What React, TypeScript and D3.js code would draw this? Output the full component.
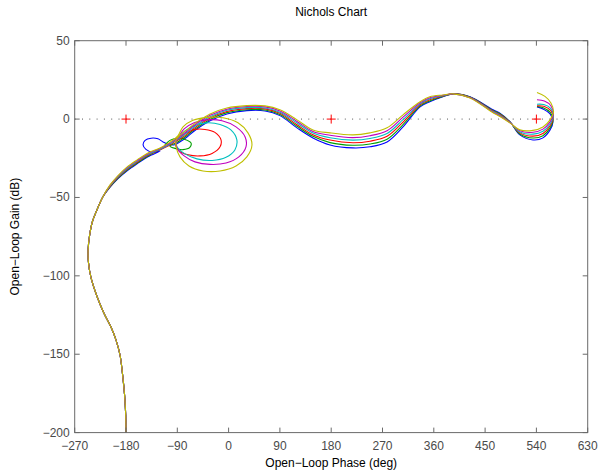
import React from 'react';
import * as d3 from 'd3';

type P = [number, number];

const phaseTicks = [-270, -180, -90, 0, 90, 180, 270, 360, 450, 540, 630];
const gainTicks = [-200, -150, -100, -50, 0, 50];
const criticalPhases = [-180, 180, 540];

const titleText = 'Nichols Chart';
const xLabel = 'Open\u2212Loop Phase (deg)';
const yLabel = 'Open\u2212Loop Gain (dB)';

// shared low-frequency branch (all six responses overlap here)
const lowerBranch: P[] = [
  [-180, -205], [-180.5, -189], [-182.5, -176], [-186, -163], [-190.5, -150.5], [-197.5, -141],
  [-206, -133], [-218.5, -124], [-231, -113], [-241.5, -101], [-246, -91], [-246.5, -83.5],
  [-244, -74.5], [-239, -65.5], [-231, -58], [-220.5, -49.5],
];

const blueTail: P[] = [[-208, -43.5], [-194, -38], [-178, -33], [-160.5, -28.5], [-141.5, -24], [-120, -20.3]];
const blueLoop: P[] = [[-132.5, -21.2], [-145, -19.3], [-150, -16.5], [-146.5, -13.6], [-136, -12.2], [-124, -12.6], [-115, -14.6], [-106, -16.1], [-96, -16.5]];
const blueUpper: P[] = [[-85, -14.5], [-73, -11.4], [-62.5, -8.2], [-32.5, -1.1], [-3, 3.3], [32, 5.4], [64, 5.2], [90, 2.2], [120, -5.6], [148, -12], [178, -16.5], [218, -18.4], [248, -17.7], [278, -14.6], [306, -5], [336, 7.8], [353, 11], [376, 14.2], [394, 16.1], [423.5, 14.2], [464, 5.9], [476, 3.8], [494, -1.8], [511, -10.1], [534, -13.3], [551.5, -12], [564, -6.9], [569, -1.8], [564, 3.3], [551.5, 6.5], [541, 7.8]];

const greenTail: P[] = [[-208, -43.2], [-194, -37.6], [-178, -32.5], [-160.5, -28.0], [-141.5, -23.6], [-124, -20.0], [-115, -18.5]];
const greenLoop: P[] = [[-111.5, -16.5], [-103, -13.6], [-90.5, -12.2], [-76.5, -13], [-66, -15.2], [-68, -18.1], [-80, -19.5], [-94, -18.7], [-103, -17.1], [-92, -15.2]];
const greenUpper: P[] = [[-85, -13.6], [-73, -10.5], [-62.5, -7.3], [-32.5, -0.2], [-3, 4.1], [32, 6.0], [64, 5.8], [90, 2.9], [120, -4.6], [148, -11.0], [178, -15.0], [218, -16.7], [248, -15.9], [278, -12.8], [306, -3.5], [336, 8.4], [353, 11.6], [376, 14.4], [394, 16.1], [423.5, 14.1], [464, 5.5], [476, 3.4], [494, -2.0], [511, -9.5], [534, -12.1], [551.5, -10.6], [564, -5.6], [569.3, -0.5], [564.5, 4.2], [552, 7.3], [541, 8]];

const redTail: P[] = [[-208, -42.9], [-194, -37.2], [-178, -32.0], [-160.5, -27.5], [-141.5, -23.1], [-120.3, -19.6], [-102.8, -16.5], [-89, -13]];
const redLoop: P[] = [[-74.5, -8.8], [-59, -6.6], [-41.5, -6.6], [-24, -8.5], [-13.3, -13.3], [-15, -17.7], [-29, -21.9], [-50, -23.5], [-71, -22.8], [-87, -20.3], [-93, -16.5], [-90.5, -13.9]];
const redUpper: P[] = [[-85, -12.7], [-73, -9.6], [-62.5, -6.4], [-32.5, 0.7], [-3, 4.8], [32, 6.7], [64, 6.5], [90, 3.7], [120, -3.6], [148, -10.0], [178, -13.4], [218, -15.1], [248, -14.1], [278, -11.0], [306, -1.9], [336, 9.1], [353, 12.3], [376, 14.7], [394, 16.1], [423.5, 13.9], [464, 5.1], [476, 2.9], [494, -2.1], [511, -8.8], [534, -10.9], [551.5, -9.2], [564, -4.3], [569.5, 0.8], [565, 5.5], [553, 8.2], [541, 8.5]];

const cyanTail: P[] = [[-208, -42.6], [-194, -36.8], [-178, -31.5], [-160.5, -27.0], [-141.5, -22.6], [-120.3, -19.2], [-102.8, -15.9], [-89, -12]];
const cyanLoop: P[] = [[-76.5, -7.5], [-59, -4], [-38, -2.4], [-15, -3.4], [4, -6.9], [14.5, -13.3], [11, -19.7], [-4.5, -24.4], [-29, -26.4], [-55.5, -25.4], [-76.5, -22.2], [-90.5, -17.7], [-91.5, -13.9]];
const cyanUpper: P[] = [[-85, -11.9], [-73, -8.7], [-62.5, -5.5], [-32.5, 1.5], [-3, 5.6], [32, 7.3], [64, 7.1], [90, 4.4], [120, -2.5], [148, -8.9], [178, -11.9], [218, -13.4], [248, -12.4], [278, -9.2], [306, -0.4], [336, 9.7], [353, 12.9], [376, 14.9], [394, 16.1], [423.5, 13.8], [464, 4.8], [476, 2.5], [494, -2.3], [511, -8.2], [534, -9.6], [551.5, -7.8], [564, -3.1], [569.7, 2.0], [565, 6.8], [553, 9.3], [541, 9.5]];

const magentaTail: P[] = [[-208, -42.3], [-194, -36.4], [-178, -31.0], [-160.5, -26.5], [-141.5, -22.1], [-120.3, -18.8], [-102.8, -15.3], [-89, -11.7]];
const magentaLoop: P[] = [[-78, -6.3], [-60.5, -2.4], [-38, -0.5], [-11.5, -1.1], [13, -5], [29, -11.4], [30.5, -17.7], [18, -24.1], [-4.5, -28], [-32.5, -28.9], [-59, -27.3], [-78, -23.5], [-90.5, -18.4], [-92, -13.9]];
const magentaUpper: P[] = [[-85, -11.0], [-73, -7.8], [-62.5, -4.6], [-32.5, 2.4], [-3, 6.3], [32, 8.0], [64, 7.8], [90, 5.2], [120, -1.5], [148, -7.9], [178, -10.3], [218, -11.8], [248, -10.6], [278, -7.4], [306, 1.2], [336, 10.4], [353, 13.6], [376, 15.2], [394, 16.1], [423.5, 13.6], [464, 4.4], [476, 2.0], [494, -2.4], [511, -7.5], [534, -8.4], [551.5, -6.4], [564, -1.8], [569.8, 3.3], [565.3, 8.5], [554, 11.5], [541, 12.3]];

const yellowTail: P[] = [[-208, -42.0], [-194, -36.0], [-178, -30.5], [-160.5, -26.0], [-141.5, -21.6], [-120.3, -18.4], [-102.8, -14.7], [-89, -10.7]];
const yellowLoop: P[] = [[-80, -5], [-62.5, -0.8], [-38, 1.1], [-10, 0.8], [16.5, -2.4], [34, -8.8], [41, -16.5], [32, -24.1], [13, -29.9], [-15, -33.1], [-45, -33.1], [-69.5, -29.9], [-85.3, -24.1], [-92, -17.7], [-92, -13.3]];
const yellowUpper: P[] = [[-85, -10.1], [-73, -6.9], [-62.5, -3.7], [-32.5, 3.3], [-3, 7.1], [32, 8.6], [64, 8.4], [90, 5.9], [120, -0.5], [148, -6.9], [178, -8.8], [218, -10.1], [248, -8.8], [278, -5.6], [306, 2.7], [336, 11], [353, 14.2], [376, 15.4], [394, 16.1], [423.5, 13.5], [464, 4], [476, 1.6], [494, -2.6], [511, -6.9], [534, -7.2], [551.5, -5], [564, -0.5], [570, 4.6], [565.5, 10.3], [555, 14.5], [541, 17]];

const seriesColors = ['#0000ff', '#00a000', '#ff0000', '#00bfbf', '#bf00bf', '#bfbf00'];

const series: P[][] = [
  [...lowerBranch, ...blueTail, ...blueLoop, ...blueUpper],
  [...lowerBranch, ...greenTail, ...greenLoop, ...greenUpper],
  [...lowerBranch, ...redTail, ...redLoop, ...redUpper],
  [...lowerBranch, ...cyanTail, ...cyanLoop, ...cyanUpper],
  [...lowerBranch, ...magentaTail, ...magentaLoop, ...magentaUpper],
  [...lowerBranch, ...yellowTail, ...yellowLoop, ...yellowUpper],
];

const W = 598;
const H = 474;
const L = 74.7, R = 587.7, T = 40.7, B = 432.6;
const FONT = '"Liberation Sans", Arial, Helvetica, sans-serif';
const fmt = (v: number) => (v < 0 ? '\u2212' + Math.abs(v) : String(v));

export default function App() {
  const x = d3.scaleLinear().domain([-270, 630]).range([L, R]);
  const y = d3.scaleLinear().domain([-200, 50]).range([B, T]);
  const line = d3
    .line<P>()
    .x((d) => x(d[0]))
    .y((d) => y(d[1]))
    .curve(d3.curveCatmullRom.alpha(0.5));
  const axisColor = '#6a6a6a';
  const tickLen = 5;

  return (
    <svg width={W} height={H} style={{ position: 'absolute', left: 0, top: 0, background: '#fff' }} fontFamily={FONT}>
      <defs>
        <clipPath id="plotClip">
          <rect x={L} y={T} width={R - L} height={B - T} />
        </clipPath>
      </defs>
      <rect x={0} y={0} width={W} height={H} fill="#fff" />
      <text x={(L + R) / 2} y={16} textAnchor="middle" fontSize={12} fill="#000">{titleText}</text>

      <line x1={x(-270)} x2={x(630)} y1={y(0)} y2={y(0)} stroke="#555" strokeWidth={1} strokeDasharray="1 6.3" />

      <g clipPath="url(#plotClip)">
        {series.map((pts, i) => (
          <path key={i} d={line(pts) || ''} fill="none" stroke={seriesColors[i]} strokeWidth={1.1} />
        ))}
      </g>

      {criticalPhases.map((p) => (
        <path key={p} d={`M${x(p) - 4.5},${y(0)}H${x(p) + 4.5}M${x(p)},${y(0) - 4.5}V${y(0) + 4.5}`} stroke="#ff0000" strokeWidth={1} fill="none" />
      ))}

      <rect x={L} y={T} width={R - L} height={B - T} fill="none" stroke={axisColor} strokeWidth={1} />
      {phaseTicks.map((t) => (
        <g key={'x' + t}>
          <line x1={x(t)} x2={x(t)} y1={B} y2={B - tickLen} stroke={axisColor} />
          <line x1={x(t)} x2={x(t)} y1={T} y2={T + tickLen} stroke={axisColor} />
          <text x={x(t)} y={450} textAnchor="middle" fontSize={12} fill="#4a4a4a">{fmt(t)}</text>
        </g>
      ))}
      {gainTicks.map((t) => (
        <g key={'y' + t}>
          <line x1={L} x2={L + tickLen} y1={y(t)} y2={y(t)} stroke={axisColor} />
          <line x1={R} x2={R - tickLen} y1={y(t)} y2={y(t)} stroke={axisColor} />
          <text x={L - 5} y={y(t) + 4} textAnchor="end" fontSize={12} fill="#4a4a4a">{fmt(t)}</text>
        </g>
      ))}

      <text x={(L + R) / 2} y={467} textAnchor="middle" fontSize={12} fill="#000">{xLabel}</text>
      <text transform={`translate(19,${(T + B) / 2}) rotate(-90)`} textAnchor="middle" fontSize={12} fill="#000">{yLabel}</text>
    </svg>
  );
}
